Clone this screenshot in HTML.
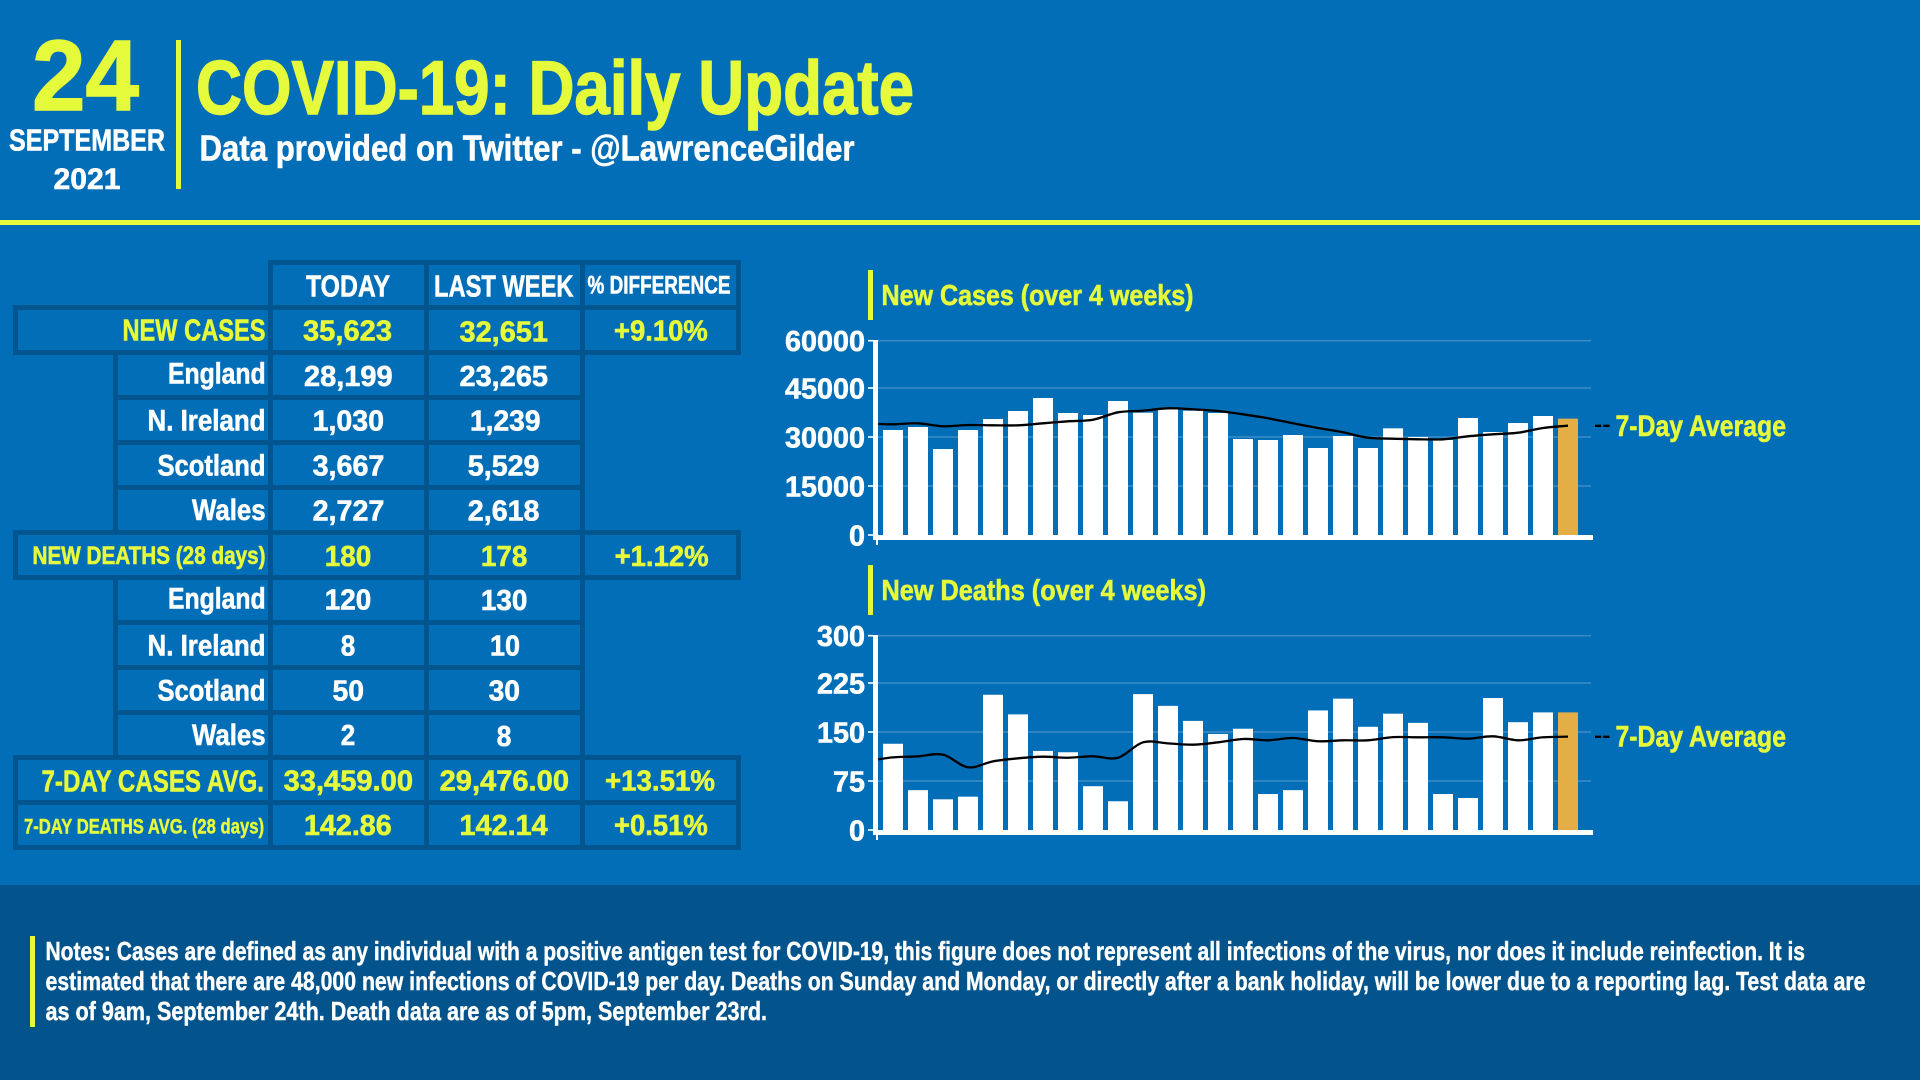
<!DOCTYPE html>
<html lang="en">
<head>
<meta charset="utf-8">
<title>COVID-19: Daily Update</title>
<style>
html,body{margin:0;padding:0;width:1920px;height:1080px;overflow:hidden;background:#036eb8;}
svg{display:block;position:absolute;left:0;top:0;}
text{font-family:"Liberation Sans Narrow","Liberation Sans",sans-serif;font-weight:700;stroke-width:.6px;}
.w{fill:#fff;stroke:#fff;}
.y{fill:#e6fa3c;stroke:#e6fa3c;}
.f29{font-size:29px;}.f30{font-size:30px;}.f31{font-size:31px;}.f25{font-size:25px;}.f21{font-size:21px;}.f26{font-size:26px;}
.thin{stroke-width:.45px;}
.heavy{stroke-width:1.4px;}
.g{fill:#03558f;}
</style>
</head>
<body>
<svg id="page" width="1920" height="1080" viewBox="0 0 1920 1080" xmlns="http://www.w3.org/2000/svg">
<rect x="0" y="0" width="1920" height="1080" fill="#036eb8"/>

<g>
<text class="y heavy" x="32" y="110" font-size="100" textLength="107" lengthAdjust="spacingAndGlyphs">24</text>
<text class="w f31" x="9" y="150.5" textLength="156" lengthAdjust="spacingAndGlyphs">SEPTEMBER</text>
<text class="w f30" x="53.5" y="189" textLength="67" lengthAdjust="spacingAndGlyphs">2021</text>
<rect x="176" y="40" width="5" height="149" fill="#e6fa3c"/>
<text class="y heavy" x="196" y="114" font-size="76" textLength="718" lengthAdjust="spacingAndGlyphs">COVID-19: Daily Update</text>
<text class="w" x="199.5" y="160.7" font-size="36" textLength="655" lengthAdjust="spacingAndGlyphs">Data provided on Twitter - @LawrenceGilder</text>
<rect x="0" y="220" width="1920" height="5" fill="#e6fa3c"/>
</g>

<g>
<rect class="g" x="13" y="305" width="5" height="50"/>
<rect class="g" x="13" y="530" width="5" height="50"/>
<rect class="g" x="13" y="755" width="5" height="95"/>
<rect class="g" x="113" y="355" width="5" height="175"/>
<rect class="g" x="113" y="580" width="5" height="175"/>
<rect class="g" x="268" y="260" width="5" height="590"/>
<rect class="g" x="424" y="260" width="5" height="590"/>
<rect class="g" x="580" y="260" width="5" height="590"/>
<rect class="g" x="736" y="260" width="5" height="95"/>
<rect class="g" x="736" y="530" width="5" height="50"/>
<rect class="g" x="736" y="755" width="5" height="95"/>
<rect class="g" x="268" y="260" width="473" height="5"/>
<rect class="g" x="13" y="305" width="728" height="5"/>
<rect class="g" x="13" y="350" width="728" height="5"/>
<rect class="g" x="113" y="395" width="472" height="5"/>
<rect class="g" x="113" y="440" width="472" height="5"/>
<rect class="g" x="113" y="485" width="472" height="5"/>
<rect class="g" x="13" y="530" width="728" height="5"/>
<rect class="g" x="13" y="575" width="728" height="5"/>
<rect class="g" x="113" y="620" width="472" height="5"/>
<rect class="g" x="113" y="665" width="472" height="5"/>
<rect class="g" x="113" y="710" width="472" height="5"/>
<rect class="g" x="13" y="755" width="728" height="5"/>
<rect class="g" x="13" y="800" width="728" height="5"/>
<rect class="g" x="13" y="845" width="728" height="5"/>
</g>

<g>
<text class="w f31" x="306" y="296.7" textLength="84" lengthAdjust="spacingAndGlyphs">TODAY</text>
<text class="w f31" x="434" y="296.7" textLength="139.5" lengthAdjust="spacingAndGlyphs">LAST WEEK</text>
<text class="w f25" x="587.5" y="293.3" textLength="143" lengthAdjust="spacingAndGlyphs">% DIFFERENCE</text>

<text class="y f31" x="122.5" y="340.7" textLength="143" lengthAdjust="spacingAndGlyphs">NEW CASES</text>
<text class="y f29" x="303" y="340.7" textLength="89" lengthAdjust="spacingAndGlyphs">35,623</text>
<text class="y f29" x="459.5" y="341.5" textLength="88.5" lengthAdjust="spacingAndGlyphs">32,651</text>
<text class="y f29" x="614" y="340.7" textLength="93.7" lengthAdjust="spacingAndGlyphs">+9.10%</text>

<text class="w f30" x="168" y="383.5" textLength="97.6" lengthAdjust="spacingAndGlyphs">England</text>
<text class="w f29" x="304" y="386" textLength="88.6" lengthAdjust="spacingAndGlyphs">28,199</text>
<text class="w f29" x="459.5" y="386" textLength="88.5" lengthAdjust="spacingAndGlyphs">23,265</text>

<text class="w f30" x="147.5" y="430.7" textLength="118" lengthAdjust="spacingAndGlyphs">N. Ireland</text>
<text class="w f29" x="312.6" y="430.7" textLength="71.4" lengthAdjust="spacingAndGlyphs">1,030</text>
<text class="w f29" x="470" y="430.7" textLength="70.5" lengthAdjust="spacingAndGlyphs">1,239</text>

<text class="w f30" x="157.5" y="475.7" textLength="108" lengthAdjust="spacingAndGlyphs">Scotland</text>
<text class="w f29" x="312.6" y="475.7" textLength="71.8" lengthAdjust="spacingAndGlyphs">3,667</text>
<text class="w f29" x="467.8" y="475.7" textLength="71.7" lengthAdjust="spacingAndGlyphs">5,529</text>

<text class="w f30" x="192" y="520" textLength="73.6" lengthAdjust="spacingAndGlyphs">Wales</text>
<text class="w f29" x="312.6" y="520.5" textLength="71.8" lengthAdjust="spacingAndGlyphs">2,727</text>
<text class="w f29" x="467.8" y="520.5" textLength="71.7" lengthAdjust="spacingAndGlyphs">2,618</text>

<text class="y f25" x="32.5" y="564" textLength="233" lengthAdjust="spacingAndGlyphs">NEW DEATHS (28 days)</text>
<text class="y f29" x="324.8" y="566" textLength="46.5" lengthAdjust="spacingAndGlyphs">180</text>
<text class="y f29" x="480.9" y="566" textLength="46.5" lengthAdjust="spacingAndGlyphs">178</text>
<text class="y f29" x="614.6" y="566" textLength="94" lengthAdjust="spacingAndGlyphs">+1.12%</text>

<text class="w f30" x="168" y="608.3" textLength="97.6" lengthAdjust="spacingAndGlyphs">England</text>
<text class="w f29" x="324.8" y="609.5" textLength="46.5" lengthAdjust="spacingAndGlyphs">120</text>
<text class="w f29" x="480.9" y="610" textLength="46.5" lengthAdjust="spacingAndGlyphs">130</text>

<text class="w f30" x="147.5" y="655.7" textLength="118" lengthAdjust="spacingAndGlyphs">N. Ireland</text>
<text class="w f29" x="340.8" y="655.7" textLength="14.5" lengthAdjust="spacingAndGlyphs">8</text>
<text class="w f29" x="490" y="655.7" textLength="30" lengthAdjust="spacingAndGlyphs">10</text>

<text class="w f30" x="157.5" y="700.7" textLength="108" lengthAdjust="spacingAndGlyphs">Scotland</text>
<text class="w f29" x="332.5" y="700.7" textLength="31.5" lengthAdjust="spacingAndGlyphs">50</text>
<text class="w f29" x="488.6" y="700.7" textLength="31.4" lengthAdjust="spacingAndGlyphs">30</text>

<text class="w f30" x="192" y="745" textLength="73.6" lengthAdjust="spacingAndGlyphs">Wales</text>
<text class="w f29" x="340.8" y="745" textLength="14.5" lengthAdjust="spacingAndGlyphs">2</text>
<text class="w f29" x="496.8" y="746" textLength="14.6" lengthAdjust="spacingAndGlyphs">8</text>

<text class="y f31" x="41.5" y="791.5" textLength="222.5" lengthAdjust="spacingAndGlyphs">7-DAY CASES AVG.</text>
<text class="y f29" x="283.6" y="790.5" textLength="129.4" lengthAdjust="spacingAndGlyphs">33,459.00</text>
<text class="y f29" x="439.6" y="790.5" textLength="129.4" lengthAdjust="spacingAndGlyphs">29,476.00</text>
<text class="y f29" x="605" y="790.5" textLength="110" lengthAdjust="spacingAndGlyphs">+13.51%</text>

<text class="y f21 thin" x="24" y="833.3" textLength="240" lengthAdjust="spacingAndGlyphs">7-DAY DEATHS AVG. (28 days)</text>
<text class="y f29" x="304" y="835" textLength="87.7" lengthAdjust="spacingAndGlyphs">142.86</text>
<text class="y f29" x="459.5" y="835" textLength="88.2" lengthAdjust="spacingAndGlyphs">142.14</text>
<text class="y f29" x="614" y="835" textLength="93.7" lengthAdjust="spacingAndGlyphs">+0.51%</text>
</g>

<g>
<rect x="868" y="270" width="5" height="50" fill="#e6fa3c"/>
<text class="y f29" x="881.5" y="305" textLength="312" lengthAdjust="spacingAndGlyphs">New Cases (over 4 weeks)</text>
</g>
<g id="cases-chart"></g>
<g>
<line x1="1595" y1="425.8" x2="1609.5" y2="425.8" stroke="#000" stroke-width="2.4" stroke-dasharray="6.3 1.9"/>
<text class="y" x="1615.5" y="436" font-size="30" textLength="170.5" lengthAdjust="spacingAndGlyphs">7-Day Average</text>
</g>

<g>
<rect x="868" y="565" width="5" height="50" fill="#e6fa3c"/>
<text class="y f29" x="881.5" y="600" textLength="324.5" lengthAdjust="spacingAndGlyphs">New Deaths (over 4 weeks)</text>
</g>
<g id="deaths-chart"></g>
<g>
<line x1="1595" y1="736.8" x2="1609.5" y2="736.8" stroke="#000" stroke-width="2.4" stroke-dasharray="6.3 1.9"/>
<text class="y" x="1615.5" y="746.7" font-size="30" textLength="170.5" lengthAdjust="spacingAndGlyphs">7-Day Average</text>
</g>

<g>
<rect x="0" y="885" width="1920" height="195" fill="#03548c"/>
<rect x="30" y="936" width="5" height="91" fill="#e6fa3c"/>
<text class="w f26 thin" x="45.5" y="960" textLength="1759.5" lengthAdjust="spacingAndGlyphs">Notes: Cases are defined as any individual with a positive antigen test for COVID-19, this figure does not represent all infections of the virus, nor does it include reinfection. It is</text>
<text class="w f26 thin" x="45.5" y="990.2" textLength="1820" lengthAdjust="spacingAndGlyphs">estimated that there are 48,000 new infections of COVID-19 per day. Deaths on Sunday and Monday, or directly after a bank holiday, will be lower due to a reporting lag. Test data are</text>
<text class="w f26 thin" x="45.5" y="1019.8" textLength="721.5" lengthAdjust="spacingAndGlyphs">as of 9am, September 24th. Death data are as of 5pm, September 23rd.</text>
</g>
</svg>

<script>
const dayLabels = ["Aug 28","Aug 29","Aug 30","Aug 31","Sep 1","Sep 2","Sep 3","Sep 4","Sep 5","Sep 6","Sep 7","Sep 8","Sep 9","Sep 10","Sep 11","Sep 12","Sep 13","Sep 14","Sep 15","Sep 16","Sep 17","Sep 18","Sep 19","Sep 20","Sep 21","Sep 22","Sep 23","Sep 24"];
const casesValues = [32140,33060,26326,32140,35510,37958,41938,37346,36734,41019,37432,38480,38048,37344,29386,29080,30610,26631,30304,26631,32651,29998,29080,35814,31528,34283,36426,35623];
const casesAverage = [33886,34193,33275,33673,33580,33580,34193,34806,35295,37559,38050,38784,38478,37958,36947,35724,34193,32754,31438,29785,29476,29295,29295,30213,30825,31315,32754,33459];
const casesAverageLead = 33980;
const casesTicks = [60000,45000,30000,15000,0];
const casesTickStep = 15000;
const deathsValues = [132,61,47,51,207,177,121,119,67,44,208,190,167,147,155,55,61,183,201,158,178,164,55,49,202,165,180,180];
const deathsAverage = [111.2,112.8,115.3,96,105.1,109.7,112.2,110.6,112.8,110.6,134.2,132.6,130.6,134.2,139.3,137.3,140.8,135.8,137.3,137.3,142.14,141.9,141.9,139.8,143.4,137.3,141.9,142.86];
const deathsAverageLead = 108;
const deathsTicks = [300,225,150,75,0];
const deathsTickStep = 75;

const NS = 'http://www.w3.org/2000/svg';

function make(tag, attrs, parent) {
  const el = document.createElementNS(NS, tag);
  for (const k in attrs) el.setAttribute(k, attrs[k]);
  parent.appendChild(el);
  return el;
}

function smoothPath(pts) {
  let d = 'M' + pts[0][0] + ' ' + pts[0][1];
  for (let i = 0; i < pts.length - 1; i++) {
    const p0 = pts[i - 1] || pts[i];
    const p1 = pts[i];
    const p2 = pts[i + 1];
    const p3 = pts[i + 2] || p2;
    const c1x = p1[0] + (p2[0] - p0[0]) / 6;
    const c1y = p1[1] + (p2[1] - p0[1]) / 6;
    const c2x = p2[0] - (p3[0] - p1[0]) / 6;
    const c2y = p2[1] - (p3[1] - p1[1]) / 6;
    d += ' C' + c1x.toFixed(2) + ' ' + c1y.toFixed(2) + ' ' + c2x.toFixed(2) + ' ' + c2y.toFixed(2) + ' ' + p2[0].toFixed(2) + ' ' + p2[1].toFixed(2);
  }
  return d;
}

function drawChart(rootId, prefix, baseY, values, average, lead, ticks, tickStep) {
  const root = document.getElementById(rootId);
  const plotTop = baseY - 194.3;
  const pxPerUnit = 49 / tickStep;
  const yAxis = function (v) { return Math.max(plotTop, baseY - v * pxPerUnit); };
  const xAxis = function (i) { return 883 + i * 25; };

  ticks.forEach(function (t) {
    const y = yAxis(t);
    if (t !== 0) {
      const grid = make('rect', {x: 878, y: y - 0.8, width: 713, height: 1.6, fill: '#3a8ac5'}, root);
      
      
    }
    const tick = make('rect', {x: 868, y: y - 0.8, width: 5, height: 1.6, fill: '#fff'}, root);
    
    
    const s = String(t);
    const w = s.length * 16;
    const label = make('text', {x: 865 - w, y: y + 10.3, 'font-size': 29, textLength: w, lengthAdjust: 'spacingAndGlyphs', class: 'w'}, root);
    
    
    label.textContent = s;
  });

  values.forEach(function (v, i) {
    const top = yAxis(v);
    const bar = make('rect', {x: xAxis(i), y: top, width: 20, height: baseY - top, fill: i === values.length - 1 ? '#e3ae46' : '#fff'}, root);
    
    
  });

  const axisV = make('rect', {x: 873, y: plotTop - 0.7, width: 5, height: baseY + 5 - plotTop + 0.7, fill: '#fff'}, root);
  
  
  const axisH = make('rect', {x: 873, y: baseY, width: 720, height: 5, fill: '#fff'}, root);
  
  
  const axisTick = make('rect', {x: 876, y: baseY + 5, width: 2, height: 5, fill: '#fff'}, root);
  
  

  const pts = [[878, yAxis(lead)]].concat(average.map(function (v, i) { return [xAxis(i) + 10, yAxis(v)]; }));
  const line = make('path', {d: smoothPath(pts), fill: 'none', stroke: '#000', 'stroke-width': 2.3, 'stroke-linejoin': 'round'}, root);
  
  
}

drawChart('cases-chart', 'cases', 535, casesValues, casesAverage, casesAverageLead, casesTicks, casesTickStep);
drawChart('deaths-chart', 'deaths', 830, deathsValues, deathsAverage, deathsAverageLead, deathsTicks, deathsTickStep);
</script>
</body>
</html>
